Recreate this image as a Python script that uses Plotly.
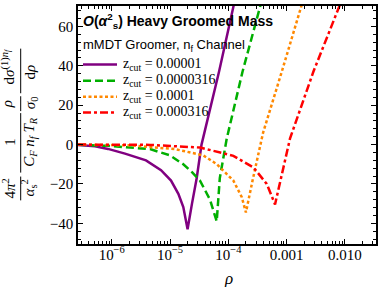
import plotly.graph_objects as go

# ---------------- data ----------------
zcut_labels = ["0.00001", "0.0000316", "0.0001", "0.000316"]

purple_rho = [2.64e-7, 5.18e-7, 8.64e-7, 1.69e-6, 3.87e-6, 7.01e-6, 1.04e-5, 1.39e-5,
              1.69e-5, 2.0e-5, 2.38e-5, 2.87e-5, 3.47e-5, 4.85e-5, 6.92e-5, 1.22e-4, 1.35e-4]
purple_val = [-0.2, -0.8, -2.2, -4.6, -8.0, -13.0, -18.3, -25.0,
              -31.7, -43.0, -30.0, -17.0, 0.0, 18.0, 37.0, 70.0, 76.0]

green_rho = [2.64e-7, 8.74e-7, 2.06e-6, 4.54e-6, 1.0e-5, 1.69e-5, 2.38e-5, 3.27e-5,
             4.85e-5, 6.32e-5, 7.14e-5, 8.17e-5, 9.38e-5, 1.75e-4, 3.52e-4, 3.97e-4]
green_val = [-0.1, -0.65, -1.5, -2.3, -5.5, -10.0, -14.0, -18.3,
             -28.0, -39.0, -17.0, -6.0, 3.0, 37.0, 70.0, 76.0]

orange_rho = [2.64e-7, 2.06e-6, 1.22e-5, 3.72e-5, 6.32e-5, 1.22e-4, 1.70e-4, 2.0e-4,
              2.60e-4, 3.37e-4, 3.94e-4, 8.24e-4, 1.77e-3, 1.99e-3]
orange_val = [0.0, -0.4, -2.3, -5.5, -9.9, -18.3, -26.7, -34.5,
              -18.3, -3.0, 6.0, 37.0, 70.0, 75.0]

red_rho = [2.64e-7, 4.54e-6, 3.27e-5, 1.22e-4, 2.69e-4, 4.56e-4, 6.32e-4, 8.77e-4,
           1.14e-3, 2.87e-3, 8.02e-3, 9.27e-3]
red_val = [0.0, -0.15, -1.5, -5.7, -11.6, -20.0, -30.4, -11.6,
           3.0, 37.0, 70.0, 75.0]

x_tickvals = [1e-6, 1e-5, 1e-4, 1e-3, 1e-2]
x_ticktext = ["10<sup>\u22126</sup>", "10<sup>\u22125</sup>", "10<sup>\u22124</sup>", "0.001", "0.010"]
y_tickvals = [-40, -20, 0, 20, 40, 60]

# ---------------- styling ----------------
colors = ["rgb(128,0,128)", "rgb(0,175,0)", "rgb(255,136,0)", "rgb(255,0,0)"]
dashes = ["solid", "8px,4px", "3px,2.5px", "8px,3px,3px,3px"]
series = [(purple_rho, purple_val), (green_rho, green_val),
          (orange_rho, orange_val), (red_rho, red_val)]

SERIF = "Liberation Serif"
SANS = "Liberation Sans"

W, H = 382, 287
L, R, T, B = 78, 6, 4, 43
PW, PH = W - L - R, H - T - B


def px(p):
    return (p - L) / PW


def py(q):
    return (H - B - q) / PH


fig = go.Figure()
for (xs, ys), c, d, lab in zip(series, colors, dashes, zcut_labels):
    fig.add_trace(go.Scatter(x=xs, y=ys, mode="lines",
                             name="z<sub>cut</sub> = " + lab,
                             line=dict(color=c, width=2.5, dash=d),
                             showlegend=False))

annotations = []
shapes = []

# title lines
annotations.append(dict(xref="paper", yref="paper", x=px(81), y=py(19),
                        xanchor="left", yanchor="middle", showarrow=False,
                        text="<b><i>O</i>(<i>α</i><sup>2</sup><sub>s</sub>) Heavy Groomed Mass</b>",
                        font=dict(family=SANS, size=14, color="black")))
annotations.append(dict(xref="paper", yref="paper", x=px(81), y=py(44),
                        xanchor="left", yanchor="middle", showarrow=False,
                        text="mMDT Groomer, n<sub>f</sub> Channel",
                        font=dict(family=SANS, size=13, color="black")))

# legend (manual, matching the reference layout)
rows = [63, 79.5, 95.5, 111.5]
for c, d, lab, r in zip(colors, dashes, zcut_labels, rows):
    shapes.append(dict(type="line", xref="paper", yref="paper",
                       x0=px(83), x1=px(117), y0=py(r), y1=py(r),
                       line=dict(color=c, width=2.5, dash=d)))
    annotations.append(dict(xref="paper", yref="paper", x=px(121), y=py(r),
                            xanchor="left", yanchor="middle", showarrow=False,
                            text="z<sub>cut</sub> = " + lab,
                            font=dict(family=SERIF, size=14, color="black")))

# x-axis title
annotations.append(dict(xref="paper", yref="paper", x=px(228), y=py(279),
                        xanchor="center", yanchor="middle", showarrow=False,
                        text="<i>ρ</i>",
                        font=dict(family=SERIF, size=17, color="black")))


# y-axis title built as stacked fractions (rotated)
def rot(text, x, y, size=15):
    annotations.append(dict(xref="paper", yref="paper", x=px(x), y=py(y),
                            xanchor="center", yanchor="middle", showarrow=False,
                            textangle=-90, text=text,
                            font=dict(family=SERIF, size=size, color="black")))


def frac_line(y0, y1, x=20.7):
    shapes.append(dict(type="line", xref="paper", yref="paper",
                       x0=px(x), x1=px(x), y0=py(y0), y1=py(y1),
                       line=dict(color="black", width=1)))


rot("4<i>π</i><sup>2</sup>", 9, 188)
frac_line(176, 200)
rot("<i>α</i><sub>s</sub><sup>2</sup>", 29, 187)

rot("1", 10, 141)
frac_line(112, 172)
rot("<i>C</i><sub><i>F</i></sub> <i>n</i><sub><i>f</i></sub> <i>T</i><sub><i>R</i></sub>", 30, 141)

rot("<i>ρ</i>", 7, 103)
frac_line(95, 110)
rot("<i>σ</i><sub>0</sub>", 31, 102)

rot("d<i>σ</i><sup>(1)<i>n<sub>f</sub></i></sup>", 8, 66)
frac_line(47, 92)
rot("d<i>ρ</i>", 30, 71)

# minor tick positions (axis decoration)
minor_x = [m * 10.0 ** k for k in range(-7, -1) for m in range(2, 10)]

fig.update_layout(
    width=W, height=H, autosize=False,
    margin=dict(l=L, r=R, t=T, b=B, pad=0),
    paper_bgcolor="white", plot_bgcolor="white",
    showlegend=False,
    annotations=annotations, shapes=shapes,
    xaxis=dict(type="log", range=[-6.578, -1.468],
               tickmode="array", tickvals=x_tickvals, ticktext=x_ticktext,
               ticks="inside", ticklen=5, tickwidth=1, tickcolor="black",
               ticklabelstandoff=-4,
               minor=dict(tickmode="array", tickvals=minor_x, ticks="inside",
                          ticklen=3, tickwidth=1, tickcolor="black", showgrid=False),
               showline=True, linecolor="black", linewidth=1.5, mirror="ticks",
               showgrid=False, zeroline=False,
               tickfont=dict(family=SERIF, size=15, color="black")),
    yaxis=dict(range=[-50.5, 70.4],
               tickmode="array", tickvals=y_tickvals,
               ticks="inside", ticklen=5, tickwidth=1, tickcolor="black",
               minor=dict(dtick=4, tick0=0, ticks="inside", ticklen=3, tickwidth=1,
                          tickcolor="black", showgrid=False),
               showline=True, linecolor="black", linewidth=1.5, mirror="ticks",
               showgrid=False, zeroline=False,
               tickfont=dict(family=SERIF, size=15, color="black")),
)

fig.write_html("out.html", config={"displayModeBar": False},
               post_script="document.body.style.margin='0px';")
